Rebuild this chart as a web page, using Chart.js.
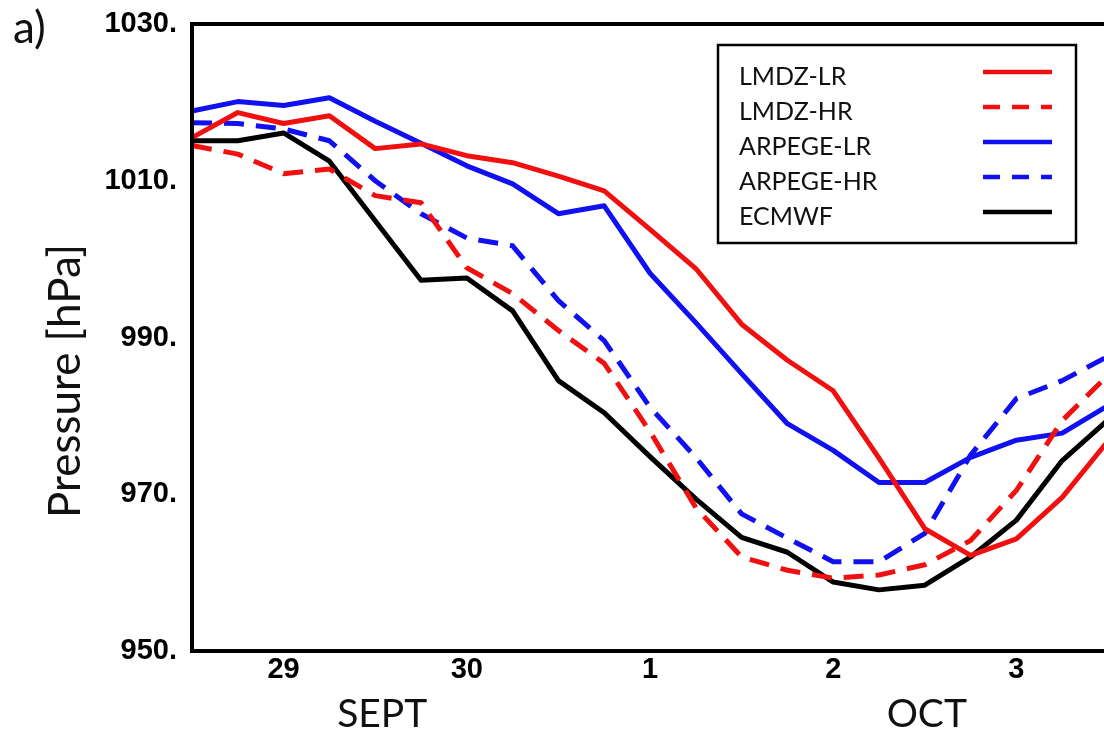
<!DOCTYPE html>
<html>
<head>
<meta charset="utf-8">
<script src="https://cdn.jsdelivr.net/npm/chart.js@4.4.1/dist/chart.umd.min.js"></script>
<style>
  html, body { margin: 0; padding: 0; background: #fff; overflow: hidden; }
  #wrap { position: relative; width: 1112px; height: 732px; }
</style>
</head>
<body>
<div id="wrap"><canvas id="chart"></canvas></div>
<script>
// ===== Sea level pressure, 28 Sept - 3 Oct (6-hourly) =====

// time steps (day / hour)
const times = ["28/12h", "28/18h", "29/00h", "29/06h", "29/12h", "29/18h",
               "30/00h", "30/06h", "30/12h", "30/18h", "01/00h", "01/06h",
               "01/12h", "01/18h", "02/00h", "02/06h", "02/12h", "02/18h",
               "03/00h", "03/06h", "03/12h"];

// series values [hPa]
const lmdzLR   = [1015.5, 1018.7, 1017.3, 1018.3, 1014.1, 1014.7, 1013.2, 1012.3, 1010.6, 1008.7, 1003.8,
                  998.8, 991.7, 987.1, 983.2, 974.6, 965.6, 962.2, 964.3, 969.6, 976.8];
const lmdzHR   = [1014.5, 1013.4, 1010.9, 1011.5, 1008.1, 1007.2, 998.9, 995.6, 990.9, 986.7, 978.0,
                  968.3, 962.0, 960.3, 959.3, 959.7, 961.0, 964.1, 970.5, 979.4, 985.2];
const arpegeLR = [1018.9, 1020.1, 1019.6, 1020.6, 1017.6, 1014.8, 1011.9, 1009.6, 1005.8, 1006.8, 998.2,
                  991.9, 985.4, 979.0, 975.6, 971.5, 971.5, 974.7, 976.9, 977.8, 981.3];
const arpegeHR = [1017.4, 1017.3, 1016.6, 1015.1, 1010.0, 1005.8, 1002.7, 1001.7, 994.7, 989.6, 981.1,
                  974.7, 967.5, 964.4, 961.4, 961.4, 965.0, 975.0, 982.2, 984.5, 987.6];
const ecmwf    = [1015.1, 1015.1, 1016.1, 1012.5, 1004.9, 997.3, 997.6, 993.4, 984.5, 980.4, 974.8,
                  969.4, 964.5, 962.6, 958.8, 957.8, 958.4, 962.0, 966.7, 974.3, 979.5];

// month labels and where they sit
const monthLabels = ["SEPT", "OCT"];
const monthAt     = ["29/12h", "02/12h"];

const RED = "#f01010";
const BLUE = "#1010f0";
const DASH = [20, 12];

function series(label, data, color, dashed) {
    return {
        label: label,
        data: data,
        borderColor: color,
        borderWidth: 5,
        borderDash: dashed ? DASH : [],
        borderJoinStyle: "round",
        fill: false,
        tension: 0,
        pointRadius: 0
    };
}

const tickFont = { family: "'Liberation Sans', Arial, sans-serif", size: 29, weight: "bold" };
const textFont = "Lato, 'Open Sans', sans-serif";

// frame, axis title, month names, panel tag and legend box
const decorations = {
    id: "decorations",
    afterDraw(chart) {
        const { ctx, chartArea: a } = chart;
        const xs = chart.scales.x;
        ctx.save();

        ctx.strokeStyle = "#000";
        ctx.lineWidth = 4;
        ctx.strokeRect(a.left, a.top, a.right - a.left, a.bottom - a.top);

        ctx.fillStyle = "#111";
        ctx.font = "44px " + textFont;
        ctx.textBaseline = "alphabetic";
        ctx.textAlign = "center";
        ctx.save();
        ctx.translate(80, 381);
        ctx.rotate(-Math.PI / 2);
        ctx.fillText("Pressure [hPa]", 0, 0);
        ctx.restore();

        ctx.font = "39px " + textFont;
        monthLabels.forEach((m, i) => {
            const x = xs.getPixelForValue(times.indexOf(monthAt[i]));
            ctx.fillText(m, x + (i === 0 ? 7 : 2), 727);
        });

        ctx.textAlign = "left";
        ctx.font = "44px " + textFont;
        ctx.fillText("a)", 13, 43);

        // legend
        ctx.fillStyle = "#fff";
        ctx.fillRect(718, 45, 358, 198);
        ctx.lineWidth = 2.5;
        ctx.strokeStyle = "#000";
        ctx.strokeRect(718, 45, 358, 198);

        ctx.font = "25px " + textFont;
        ctx.textBaseline = "middle";
        chart.data.datasets.forEach((ds, i) => {
            const y = 77 + i * 35;
            ctx.fillStyle = "#111";
            ctx.fillText(ds.label, 739, y);
            ctx.beginPath();
            ctx.setLineDash(ds.borderDash.length ? [17, 12] : []);
            ctx.strokeStyle = ds.borderColor;
            ctx.lineWidth = 4.5;
            ctx.moveTo(983, y - 5);
            ctx.lineTo(1052, y - 5);
            ctx.stroke();
        });
        ctx.restore();
    }
};

new Chart(document.getElementById("chart"), {
    type: "line",
    data: {
        labels: times,
        datasets: [
            series("LMDZ-LR", lmdzLR, RED, false),
            series("LMDZ-HR", lmdzHR, RED, true),
            series("ARPEGE-LR", arpegeLR, BLUE, false),
            series("ARPEGE-HR", arpegeHR, BLUE, true),
            series("ECMWF", ecmwf, "#000", false)
        ]
    },
    options: {
        responsive: true,
        maintainAspectRatio: false,
        animation: false,
        layout: { padding: { top: 24, right: 4, left: 0, bottom: 0 } },
        scales: {
            x: {
                type: "category",
                offset: false,
                grid: { display: false, drawTicks: false },
                border: { display: false },
                ticks: {
                    autoSkip: false,
                    maxRotation: 0,
                    padding: 2,
                    color: "#000",
                    font: tickFont,
                    callback: (v, i) => times[i].endsWith("00h") ? String(parseInt(times[i], 10)) : ""
                },
                afterFit: s => { s.height = 81; s.paddingLeft = 0; s.paddingRight = 0; }
            },
            y: {
                min: 950,
                max: 1030,
                grid: { display: false, drawTicks: false },
                border: { display: false },
                ticks: {
                    stepSize: 20,
                    padding: 15,
                    color: "#000",
                    font: tickFont,
                    callback: v => v + "."
                },
                afterFit: s => { s.width = 192; s.paddingTop = 0; s.paddingBottom = 0; }
            }
        },
        plugins: {
            legend: { display: false },
            tooltip: { enabled: false }
        }
    },
    plugins: [decorations]
});
</script>
</body>
</html>
